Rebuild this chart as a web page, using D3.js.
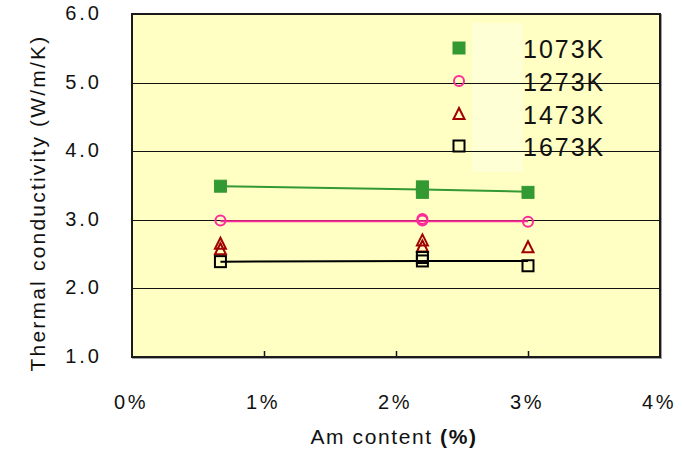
<!DOCTYPE html>
<html>
<head>
<meta charset="utf-8">
<script src="https://cdn.jsdelivr.net/npm/d3@7"></script>
<style>
  html, body { margin: 0; padding: 0; background: #ffffff; }
  svg { display: block; font-family: "Liberation Sans", Arial, sans-serif; }
</style>
</head>
<body>
<svg id="chart" width="682" height="450"></svg>
<script>
// Am content (%) of each measured sample
const amContent = [0.67, 2.2, 3.0];

// Measured thermal conductivity (W/m/K), one entry per sample: [Am %, value]
const k1073 = [[0.67, 3.49], [2.2, 3.48], [2.2, 3.40], [3.0, 3.40]];
const k1273 = [[0.67, 2.99], [2.2, 3.01], [2.2, 2.99], [3.0, 2.97]];
const k1473 = [[0.67, 2.65], [0.67, 2.57], [2.2, 2.70], [2.2, 2.61], [3.0, 2.60]];
const k1673 = [[0.67, 2.39], [2.2, 2.45], [2.2, 2.40], [3.0, 2.33]];

// Trend lines at each Am content (1473K has none)
const line1073 = [3.49, 3.44, 3.41];
const line1273 = [2.98, 2.98, 2.98];
const line1673 = [2.39, 2.40, 2.40];

const seriesNames = ["1073K", "1273K", "1473K", "1673K"];
const yTicks = [1, 2, 3, 4, 5, 6];
const xTicks = [0, 1, 2, 3, 4];

const series = [
  { name: seriesNames[0], pts: k1073, line: line1073, color: "#339933", shape: "square", fill: true },
  { name: seriesNames[1], pts: k1273, line: line1273, color: "#ff2a9a", shape: "circle", fill: false },
  { name: seriesNames[2], pts: k1473, line: null,     color: "#a00000", shape: "triangle", fill: false },
  { name: seriesNames[3], pts: k1673, line: line1673, color: "#000000", shape: "square", fill: false }
];

const svg = d3.select("#chart");
const plot = { left: 132, right: 660, top: 14, bottom: 357 };

const x = d3.scaleLinear().domain([0, 4]).range([plot.left, plot.right]);
const y = d3.scaleLinear().domain([1, 6]).range([plot.bottom, plot.top]);

// frame shadow + plot background
svg.append("rect")
  .attr("x", plot.left + 1).attr("y", plot.top + 1)
  .attr("width", plot.right - plot.left).attr("height", plot.bottom - plot.top)
  .attr("fill", "none").attr("stroke", "#a0a0a0").attr("stroke-width", 2);
svg.append("rect")
  .attr("x", plot.left).attr("y", plot.top)
  .attr("width", plot.right - plot.left).attr("height", plot.bottom - plot.top)
  .attr("fill", "#ffffc4");

// slightly lighter panel behind the legend
svg.append("rect")
  .attr("x", 472).attr("y", 23).attr("width", 51).attr("height", 149)
  .attr("fill", "#ffffd6");

// horizontal gridlines
svg.append("g").selectAll("line")
  .data(yTicks.filter(d => d > 1 && d < 6))
  .join("line")
  .attr("x1", plot.left).attr("x2", plot.right)
  .attr("y1", d => Math.round(y(d)) + 0.5).attr("y2", d => Math.round(y(d)) + 0.5)
  .attr("stroke", "#111").attr("stroke-width", 1);

// x tick marks along the bottom edge (inside)
svg.append("g").selectAll("line")
  .data(xTicks.filter(d => d > 0 && d < 4))
  .join("line")
  .attr("x1", d => Math.round(x(d)) + 0.5).attr("x2", d => Math.round(x(d)) + 0.5)
  .attr("y1", plot.bottom).attr("y2", plot.bottom - 6)
  .attr("stroke", "#111").attr("stroke-width", 1.5);

// frame
svg.append("rect")
  .attr("x", plot.left).attr("y", plot.top)
  .attr("width", plot.right - plot.left).attr("height", plot.bottom - plot.top)
  .attr("fill", "none").attr("stroke", "#1a1a1a").attr("stroke-width", 2);

// y tick labels
svg.append("g").selectAll("text")
  .data(yTicks)
  .join("text")
  .attr("x", 102).attr("y", d => y(d) + 6)
  .attr("text-anchor", "end")
  .attr("font-size", 20).attr("letter-spacing", 3)
  .attr("fill", "#111")
  .text(d => d.toFixed(1));

// x tick labels
svg.append("g").selectAll("text")
  .data(xTicks)
  .join("text")
  .attr("x", d => x(d) - 1).attr("y", 409)
  .attr("text-anchor", "middle")
  .attr("font-size", 20).attr("letter-spacing", 2.5)
  .attr("fill", "#111")
  .text(d => d + "%");

// axis titles
const xt = svg.append("text")
  .attr("x", 394).attr("y", 444)
  .attr("text-anchor", "middle")
  .attr("font-size", 21).attr("letter-spacing", 1.6)
  .attr("fill", "#111");
xt.append("tspan").text("Am content ");
xt.append("tspan").attr("font-weight", "bold").text("(%)");

svg.append("text")
  .attr("transform", "translate(45,203) rotate(-90)")
  .attr("text-anchor", "middle")
  .attr("font-size", 21).attr("letter-spacing", 2.2)
  .attr("fill", "#111")
  .text("Thermal conductivity (W/m/K)");

// marker drawing
function drawMarker(g, s, cx, cy) {
  if (s.shape === "square") {
    const sz = s.fill ? 12 : 11;
    g.append("rect")
      .attr("x", cx - sz / 2).attr("y", cy - sz / 2)
      .attr("width", sz).attr("height", sz)
      .attr("fill", s.fill ? s.color : "none")
      .attr("stroke", s.color).attr("stroke-width", s.fill ? 1 : 2);
  } else if (s.shape === "circle") {
    g.append("circle")
      .attr("cx", cx).attr("cy", cy).attr("r", 5)
      .attr("fill", "none").attr("stroke", s.color).attr("stroke-width", 2);
  } else {
    const h = 10;
    g.append("path")
      .attr("d", `M${cx},${cy - h / 2 - 1}L${cx + 5.5},${cy + h / 2}L${cx - 5.5},${cy + h / 2}Z`)
      .attr("fill", "none").attr("stroke", s.color).attr("stroke-width", 2);
  }
}

// trend lines
const lineGen = d3.line().x(d => x(d[0])).y(d => y(d[1]));
series.filter(s => s.line).forEach(s => {
  svg.append("path")
    .datum(amContent.map((a, i) => [a, s.line[i]]))
    .attr("d", lineGen)
    .attr("fill", "none").attr("stroke", s.color).attr("stroke-width", 2);
});

// data points
series.forEach(s => {
  const g = svg.append("g");
  s.pts.forEach(p => drawMarker(g, s, x(p[0]), y(p[1])));
});

// legend
const legendRows = [48, 81, 114, 146];
series.forEach((s, i) => {
  const g = svg.append("g");
  drawMarker(g, s, 459, legendRows[i]);
  g.append("text")
    .attr("x", 523).attr("y", legendRows[i] + 10)
    .attr("font-size", 25).attr("letter-spacing", 2)
    .attr("fill", "#111")
    .text(s.name);
});
</script>
</body>
</html>
